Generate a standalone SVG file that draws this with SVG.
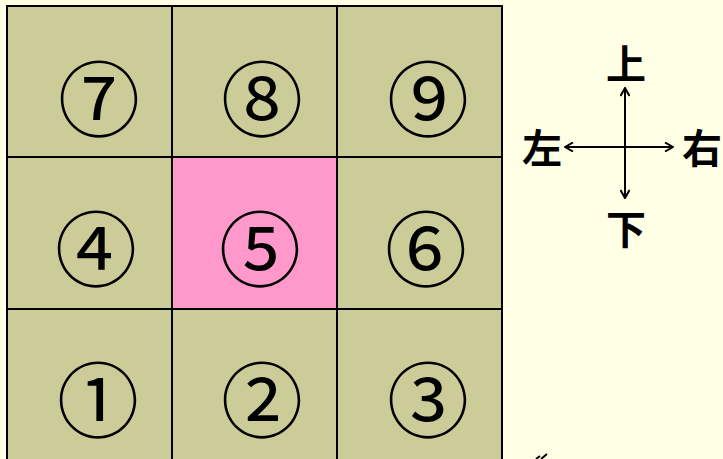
<svg xmlns="http://www.w3.org/2000/svg" width="723" height="459" viewBox="0 0 723 459">
<defs>
<style>
.cell{fill:#CCCC99;stroke:#000;stroke-width:2}
.center{fill:#FF99CC}
.num{font-family:"Noto Sans CJK JP","Noto Sans CJK SC",sans-serif;font-size:82px;text-anchor:middle;dominant-baseline:central;fill:#000}
.dir{font-family:"Noto Sans CJK JP","Noto Sans CJK SC",sans-serif;font-size:40px;text-anchor:middle;dominant-baseline:central;fill:#000;font-weight:bold}
.ax{stroke:#000;stroke-width:2;fill:none}
</style>
<marker id="ah" viewBox="0 0 10 10" refX="9" refY="5" markerWidth="10" markerHeight="10" markerUnits="userSpaceOnUse" orient="auto">
<path d="M1,0.5 L9,5 L1,9.5" fill="none" stroke="#000" stroke-width="2"/>
</marker>
</defs>
<rect width="723" height="459" fill="#FFFFE6"/>
<g id="n7"><rect class="cell" x="7" y="6" width="165" height="151"/><text class="num" x="99" y="94">⑦</text></g>
<g id="n8"><rect class="cell" x="172" y="6" width="165" height="151"/><text class="num" x="262" y="94">⑧</text></g>
<g id="n9"><rect class="cell" x="337" y="6" width="165" height="151"/><text class="num" x="428" y="94">⑨</text></g>
<g id="n4"><rect class="cell" x="7" y="157" width="165" height="152"/><text class="num" x="96" y="244">④</text></g>
<g id="n5"><rect class="cell center" x="172" y="157" width="165" height="152"/><text class="num" x="260" y="244">⑤</text></g>
<g id="n6"><rect class="cell" x="337" y="157" width="165" height="152"/><text class="num" x="426" y="244">⑥</text></g>
<g id="n1"><rect class="cell" x="7" y="309" width="165" height="160"/><text class="num" x="98" y="395">①</text></g>
<g id="n2"><rect class="cell" x="172" y="309" width="165" height="160"/><text class="num" x="262" y="395">②</text></g>
<g id="n3"><rect class="cell" x="337" y="309" width="165" height="160"/><text class="num" x="428" y="395">③</text></g>
<g id="connectors">
<line class="ax" x1="625" y1="147" x2="625" y2="88" marker-end="url(#ah)"/>
<line class="ax" x1="625" y1="147" x2="625" y2="198" marker-end="url(#ah)"/>
<line class="ax" x1="625" y1="147" x2="565" y2="147" marker-end="url(#ah)"/>
<line class="ax" x1="625" y1="147" x2="673" y2="147" marker-end="url(#ah)"/>
</g>
<g id="labels">
<text class="dir" x="626" y="62">上</text>
<text class="dir" x="626" y="227">下</text>
<text class="dir" x="542" y="146">左</text>
<text class="dir" x="702" y="146">右</text>
</g>
<path d="M536,459 L540,456 M541,459 L547,454" stroke="#000" stroke-width="2" fill="none"/>
</svg>
